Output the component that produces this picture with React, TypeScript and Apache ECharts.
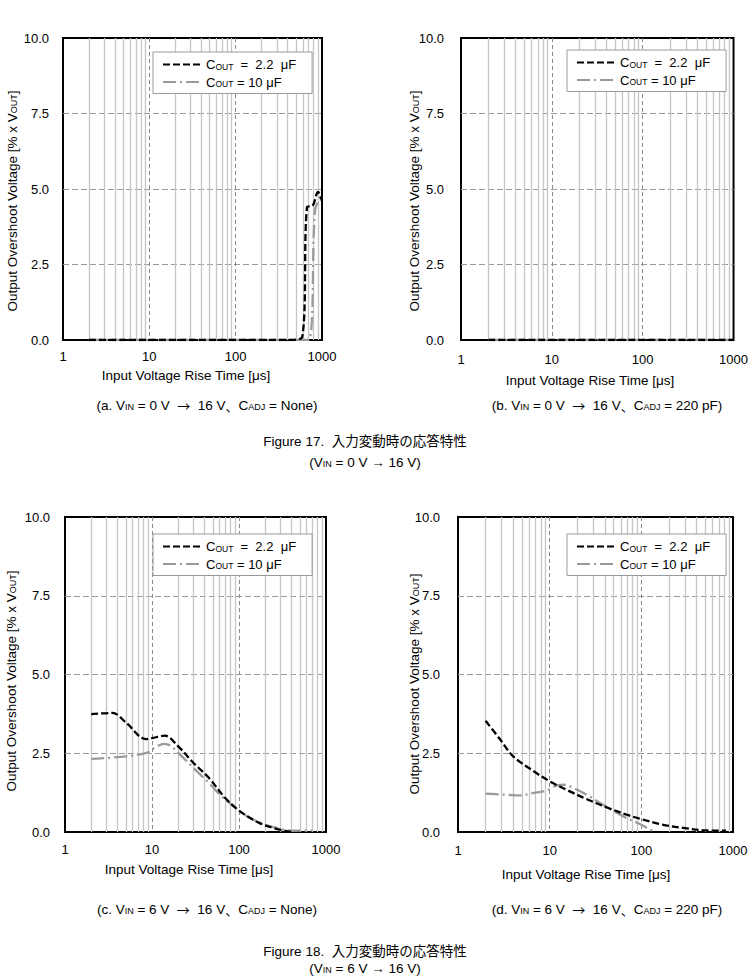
import React, { useEffect, useRef } from "react";
import * as echarts from "echarts";

const FONT = '"Liberation Sans", Arial, "Noto Sans CJK JP", sans-serif';
const CJK = '"Noto Sans CJK JP", sans-serif';

// Minor decade lines on the rise-time axis (µs)
const MINOR_TICKS = [2, 3, 4, 5, 6, 7, 8, 9, 20, 30, 40, 50, 60, 70, 80, 90, 200, 300, 400, 500, 600, 700, 800, 900];

// (a) VIN = 0 V -> 16 V, CADJ = None
const aRise22 = [2, 5, 10, 20, 50, 100, 200, 400, 590, 670, 780, 900, 1000];
const aOver22 = [0, 0, 0, 0, 0, 0, 0, 0, 0.1, 4.4, 4.45, 4.9, 4.6];
const aRise10 = [2, 5, 10, 20, 50, 100, 200, 400, 690, 830, 940, 1000];
const aOver10 = [0, 0, 0, 0, 0, 0, 0, 0, 0, 4.3, 4.7, 4.8];

// (b) VIN = 0 V -> 16 V, CADJ = 220 pF
const bRise = [2, 5, 10, 20, 50, 100, 200, 500, 1000];
const bOver22 = [0, 0, 0, 0, 0, 0, 0, 0, 0];
const bOver10 = [0, 0, 0, 0, 0, 0, 0, 0, 0];

// (c) VIN = 6 V -> 16 V, CADJ = None
const cRise22 = [2, 3.5, 5, 8.5, 10, 14, 20, 30, 45, 70, 100, 170, 270, 400];
const cOver22 = [3.74, 3.78, 3.48, 2.95, 2.98, 3.06, 2.72, 2.19, 1.72, 1.07, 0.68, 0.29, 0.1, 0.0];
const cRise10 = [2, 5, 9, 11, 14, 17, 23, 30, 45, 60, 90, 120, 180, 270, 400, 700];
const cOver10 = [2.32, 2.4, 2.53, 2.7, 2.8, 2.7, 2.35, 2.03, 1.56, 1.19, 0.78, 0.52, 0.28, 0.13, 0.04, 0.05];

// (d) VIN = 6 V -> 16 V, CADJ = 220 pF
const dRise22 = [2, 2.9, 4, 6.7, 10, 15.3, 25, 42, 69, 100, 160, 285, 510, 840];
const dOver22 = [3.53, 2.93, 2.4, 1.93, 1.61, 1.34, 1.05, 0.78, 0.55, 0.41, 0.25, 0.13, 0.05, 0.04];
const dRise10 = [2, 3, 4.8, 6.7, 8.5, 10, 12, 14.7, 18, 25, 35.5, 50, 69, 100, 120, 145];
const dOver10 = [1.22, 1.19, 1.16, 1.24, 1.29, 1.36, 1.48, 1.5, 1.4, 1.19, 0.92, 0.66, 0.44, 0.23, 0.1, 0];

const NAME_22 = "COUT = 2.2 μF";
const NAME_10 = "COUT = 10 μF";

const zip = (xs: number[], ys: number[]) => xs.map((x, i) => [x, ys[i]]);

const panels = [
  { grid: { left: 63, top: 38, width: 259, height: 302 }, s22: zip(aRise22, aOver22), s10: zip(aRise10, aOver10), legend: { left: 153, top: 52 }, xm: 10, ym: 14 },
  { grid: { left: 461, top: 38, width: 273, height: 302 }, s22: zip(bRise, bOver22), s10: zip(bRise, bOver10), legend: { left: 567, top: 50 }, xm: 13, ym: 17 },
  { grid: { left: 65, top: 517, width: 261, height: 315 }, s22: zip(cRise22, cOver22), s10: zip(cRise10, cOver10), legend: { left: 153, top: 534 }, xm: 11, ym: 15 },
  { grid: { left: 458, top: 517, width: 275, height: 315 }, s22: zip(dRise22, dOver22), s10: zip(dRise10, dOver10), legend: { left: 567, top: 534 }, xm: 12, ym: 18 },
];

const legendRich = {
  t: { fontFamily: FONT, fontSize: 13, color: "#000" },
  s: { fontFamily: FONT, fontSize: 8.5, color: "#000", verticalAlign: "bottom", lineHeight: 10 },
};

const textRich = {
  t: { fontFamily: FONT, fontSize: 13.5, color: "#000" },
  s: { fontFamily: FONT, fontSize: 9, color: "#000", verticalAlign: "bottom", lineHeight: 10 },
  a: { fontFamily: CJK, fontSize: 13, color: "#000" },
};

const yTitles = [
  { x: 12, y: 201 },
  { x: 414, y: 201 },
  { x: 11, y: 681 },
  { x: 414, y: 684 },
];

const xTitles = [
  { x: 186, y: 375 },
  { x: 590, y: 380 },
  { x: 189, y: 869 },
  { x: 586, y: 874 },
];

const captions = [
  { x: 207, y: 405, text: "{t|(a. V}{s|IN}{t| = 0 V  }{a|→}{t|  16 V}{a|、}{t|C}{s|ADJ}{t| = None)}" },
  { x: 607, y: 405, text: "{t|(b. V}{s|IN}{t| = 0 V  }{a|→}{t|  16 V}{a|、}{t|C}{s|ADJ}{t| = 220 pF)}" },
  { x: 207, y: 909, text: "{t|(c. V}{s|IN}{t| = 6 V  }{a|→}{t|  16 V}{a|、}{t|C}{s|ADJ}{t| = None)}" },
  { x: 607, y: 909, text: "{t|(d. V}{s|IN}{t| = 6 V  }{a|→}{t|  16 V}{a|、}{t|C}{s|ADJ}{t| = 220 pF)}" },
  { x: 365, y: 441, text: "{t|Figure 17.  入力変動時の応答特性}" },
  { x: 365, y: 462, text: "{t|(V}{s|IN}{t| = 0 V → 16 V)}" },
  { x: 365, y: 951, text: "{t|Figure 18.  入力変動時の応答特性}" },
  { x: 365, y: 968, text: "{t|(V}{s|IN}{t| = 6 V → 16 V)}" },
];

function buildOption() {
  const grid: any[] = [];
  const xAxis: any[] = [];
  const yAxis: any[] = [];
  const series: any[] = [];
  const legend: any[] = [];

  panels.forEach((p, i) => {
    grid.push({
      ...p.grid,
      show: true,
      borderColor: "#000",
      borderWidth: 2,
      backgroundColor: "transparent",
    });
    xAxis.push({
      type: "log",
      logBase: 10,
      gridIndex: i,
      min: 1,
      max: 1000,
      splitNumber: 3,
      axisLine: { show: false },
      axisTick: { show: false },
      axisLabel: {
        color: "#000",
        fontSize: 13,
        fontFamily: FONT,
        margin: p.xm,
        formatter: (v: number) => String(Math.round(v)),
      },
      splitLine: {
        show: true,
        showMinLine: false,
        showMaxLine: false,
        lineStyle: { color: "#8a8a8a", width: 1, type: [4, 3] },
      },
    });
    yAxis.push({
      type: "value",
      gridIndex: i,
      min: 0,
      max: 10,
      interval: 2.5,
      axisLine: { show: false },
      axisTick: { show: false },
      axisLabel: {
        color: "#000",
        fontSize: 13,
        fontFamily: FONT,
        margin: p.ym,
        formatter: (v: number) => v.toFixed(1),
      },
      splitLine: {
        show: true,
        showMinLine: false,
        showMaxLine: false,
        lineStyle: { color: "#9a9a9a", width: 1, type: [6, 3] },
      },
    });
    // minor vertical grid lines at 2..9 of each decade
    series.push({
      type: "line",
      xAxisIndex: i,
      yAxisIndex: i,
      data: [[1, 0]],
      symbol: "none",
      lineStyle: { opacity: 0 },
      silent: true,
      z: 1,
      markLine: {
        silent: true,
        z: 1,
        symbol: ["none", "none"],
        label: { show: false },
        lineStyle: { color: "#c6c6c6", width: 1.3, type: "solid" },
        data: MINOR_TICKS.map((v) => ({ xAxis: v })),
      },
    });
    series.push({
      name: NAME_22,
      type: "line",
      xAxisIndex: i,
      yAxisIndex: i,
      data: p.s22,
      smooth: 0.35,
      symbol: "none",
      showSymbol: false,
      z: 4,
      lineStyle: { color: "#000", width: 2.3, type: [7, 3] },
      itemStyle: { color: "#000" },
    });
    series.push({
      name: NAME_10,
      type: "line",
      xAxisIndex: i,
      yAxisIndex: i,
      data: p.s10,
      smooth: 0.35,
      symbol: "none",
      showSymbol: false,
      z: 3,
      lineStyle: { color: "#9a9a9a", width: 2.3, type: [13, 4, 2, 4] },
      itemStyle: { color: "#9a9a9a" },
    });
    legend.push({
      left: p.legend.left,
      top: p.legend.top,
      orient: "vertical",
      data: [NAME_22, NAME_10],
      selectedMode: false,
      itemWidth: 38,
      itemHeight: 12,
      itemGap: 4.5,
      itemStyle: { opacity: 0, color: "transparent", borderWidth: 0 },
      backgroundColor: "#fff",
      borderColor: "#999",
      borderWidth: 1,
      borderRadius: 0,
      padding: [6, 16, 5, 9],
      formatter: (name: string) =>
        name === NAME_22 ? "{t|C}{s|OUT}{t|  =  2.2  μF}" : "{t|C}{s|OUT}{t| = 10 μF}",
      textStyle: { rich: legendRich },
    });
  });

  const graphic: any[] = [];
  yTitles.forEach((p) => {
    graphic.push({
      type: "text",
      x: p.x,
      y: p.y,
      rotation: Math.PI / 2,
      style: {
        text: "{t|Output Overshoot Voltage [% x V}{s|OUT}{t|]}",
        rich: textRich,
        align: "center",
        verticalAlign: "middle",
      },
    });
  });
  xTitles.forEach((p) => {
    graphic.push({
      type: "text",
      x: p.x,
      y: p.y,
      style: {
        text: "{t|Input Voltage Rise Time [μs]}",
        rich: textRich,
        align: "center",
        verticalAlign: "middle",
      },
    });
  });
  captions.forEach((p) => {
    graphic.push({
      type: "text",
      x: p.x,
      y: p.y,
      style: { text: p.text, rich: textRich, align: "center", verticalAlign: "middle" },
    });
  });

  return { animation: false, backgroundColor: "#fff", grid, xAxis, yAxis, series, legend, graphic };
}

export default function App() {
  const ref = useRef<HTMLDivElement>(null);
  useEffect(() => {
    if (!ref.current) return;
    const chart = echarts.init(ref.current, undefined, { renderer: "svg" });
    chart.setOption(buildOption() as any);
    return () => chart.dispose();
  }, []);
  return (
    <div
      ref={ref}
      style={{ position: "absolute", left: 0, top: 0, width: 751, height: 978, background: "#fff" }}
    />
  );
}
